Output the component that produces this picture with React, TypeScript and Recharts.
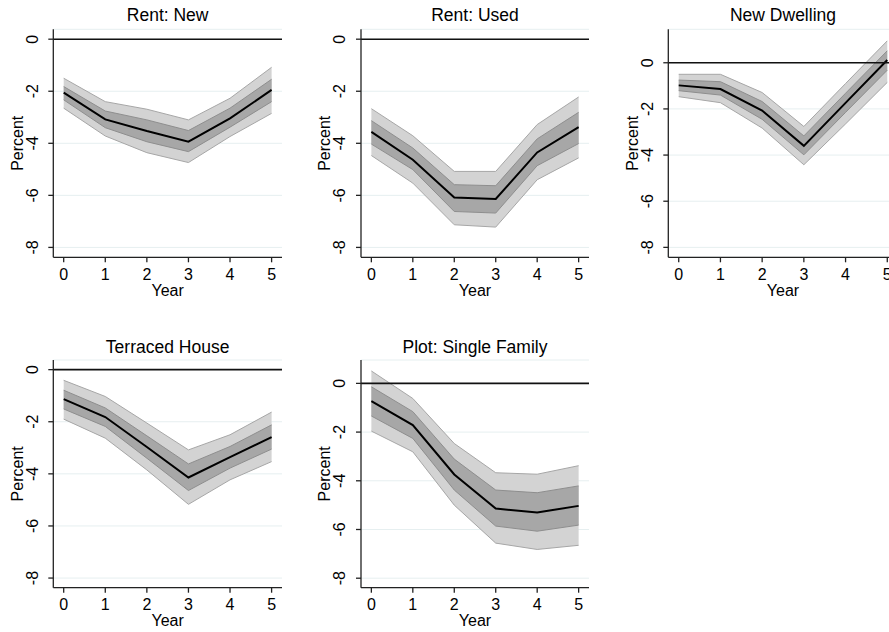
import { ComposedChart, Area, Line, XAxis, YAxis, CartesianGrid, ReferenceLine, Label } from 'recharts';

const years = [0, 1, 2, 3, 4, 5];
const yTicks = [-8, -6, -4, -2, 0];

// Rent: New
const rentNewMean = [-2.05, -3.08, -3.53, -3.94, -3.04, -1.95];
const rentNewHi95 = [-1.5, -2.4, -2.69, -3.1, -2.27, -1.08];
const rentNewLo95 = [-2.65, -3.72, -4.36, -4.74, -3.74, -2.85];
const rentNewHi68 = [-1.82, -2.76, -3.1, -3.51, -2.65, -1.54];
const rentNewLo68 = [-2.33, -3.4, -3.94, -4.32, -3.38, -2.4];

// Rent: Used
const rentUsedMean = [-3.56, -4.63, -6.08, -6.14, -4.35, -3.38];
const rentUsedHi95 = [-2.67, -3.71, -5.08, -5.08, -3.28, -2.22];
const rentUsedLo95 = [-4.47, -5.53, -7.13, -7.22, -5.4, -4.56];
const rentUsedHi68 = [-3.13, -4.18, -5.59, -5.63, -3.83, -2.81];
const rentUsedLo68 = [-4.03, -5.01, -6.62, -6.68, -4.86, -4.01];

// New Dwelling
const newDwMean = [-0.98, -1.14, -2.07, -3.6, -1.74, 0.12];
const newDwHi95 = [-0.5, -0.5, -1.29, -2.76, -0.9, 0.95];
const newDwLo95 = [-1.47, -1.73, -2.83, -4.42, -2.65, -0.85];
const newDwHi68 = [-0.75, -0.82, -1.68, -3.17, -1.32, 0.52];
const newDwLo68 = [-1.21, -1.4, -2.45, -3.99, -2.15, -0.32];

// Terraced House
const terrMean = [-1.13, -1.82, -2.97, -4.14, -3.36, -2.59];
const terrHi95 = [-0.41, -1.03, -2.05, -3.08, -2.5, -1.63];
const terrLo95 = [-1.9, -2.63, -3.85, -5.17, -4.23, -3.53];
const terrHi68 = [-0.79, -1.47, -2.54, -3.62, -2.95, -2.12];
const terrLo68 = [-1.51, -2.18, -3.4, -4.64, -3.78, -3.05];

// Plot: Single Family
const plotMean = [-0.73, -1.71, -3.74, -5.14, -5.3, -5.03];
const plotHi95 = [0.51, -0.62, -2.47, -3.67, -3.73, -3.38];
const plotLo95 = [-1.96, -2.81, -5.0, -6.56, -6.82, -6.65];
const plotHi68 = [-0.14, -1.16, -3.11, -4.38, -4.49, -4.21];
const plotLo68 = [-1.34, -2.26, -4.38, -5.86, -6.07, -5.82];

const FONT = '"Liberation Sans", Arial, sans-serif';

interface PanelProps {
  title: string;
  mean: number[];
  hi95: number[];
  lo95: number[];
  hi68: number[];
  lo68: number[];
  yDomain: [number, number];
  box: { x: number; y: number; w: number; h: number };
  plot: { l: number; t: number; r: number; b: number };
  titleY: number;
}

const X_AXIS_H = 36;

function Panel({ title, mean, hi95, lo95, hi68, lo68, yDomain, box, plot, titleY }: PanelProps) {
  const data = years.map((year, i) => ({
    year,
    band95: [lo95[i], hi95[i]],
    band68: [lo68[i], hi68[i]],
    mean: mean[i],
  }));
  const axisX = plot.l - box.x;
  const top = plot.t - box.y;
  const plotW = plot.r - plot.l;
  const plotH = plot.b - plot.t;
  const margin = {
    top,
    right: box.x + box.w - plot.r,
    bottom: box.y + box.h - plot.b - X_AXIS_H,
    left: 0,
  };

  const yTick = (props: any) => (
    <g transform={`translate(${axisX - 21.5},${props.y}) rotate(-90)`}>
      <text textAnchor="middle" dy="0.36em" fontSize={16} fill="#000" fontFamily={FONT}>
        {props.payload.value}
      </text>
    </g>
  );

  return (
    <div style={{ position: 'absolute', left: box.x, top: box.y, width: box.w, height: box.h }}>
      <div
        style={{
          position: 'absolute',
          left: axisX,
          width: plotW,
          top: titleY - box.y - 10,
          lineHeight: '20px',
          fontSize: 17.5,
          textAlign: 'center',
          fontFamily: FONT,
          color: '#000',
        }}
      >
        {title}
      </div>
      <ComposedChart width={box.w} height={box.h} data={data} margin={margin}>
        <CartesianGrid horizontal vertical={false} stroke="#e6eff0" strokeWidth={1} />
        <XAxis
          dataKey="year"
          type="number"
          domain={[-0.25, 5.25]}
          ticks={years}
          height={X_AXIS_H}
          tickSize={5}
          tickMargin={6}
          axisLine={{ stroke: '#222', strokeWidth: 1.3 }}
          tickLine={{ stroke: '#222', strokeWidth: 1.3 }}
          tick={{ fill: '#000', fontSize: 16, fontFamily: FONT }}
        >
          <Label
            content={() => (
              <text
                x={axisX + plotW / 2}
                y={top + plotH + 33}
                dy="0.36em"
                textAnchor="middle"
                fontSize={16}
                fontFamily={FONT}
                fill="#000"
              >
                Year
              </text>
            )}
          />
        </XAxis>
        <YAxis
          type="number"
          domain={yDomain}
          ticks={yTicks}
          width={axisX}
          tickSize={5}
          tickMargin={2}
          allowDataOverflow
          axisLine={{ stroke: '#222', strokeWidth: 1.3 }}
          tickLine={{ stroke: '#222', strokeWidth: 1.3 }}
          tick={yTick}
        >
          <Label
            content={() => (
              <g transform={`translate(${axisX - 36.5},${top + plotH / 2}) rotate(-90)`}>
                <text textAnchor="middle" dy="0.36em" fontSize={16} fontFamily={FONT} fill="#000">
                  Percent
                </text>
              </g>
            )}
          />
        </YAxis>
        <Area
          type="linear"
          dataKey="band95"
          fill="#d3d3d3"
          fillOpacity={1}
          stroke="#a6a6a6"
          strokeWidth={1}
          isAnimationActive={false}
          dot={false}
          activeDot={false}
        />
        <Area
          type="linear"
          dataKey="band68"
          fill="#a7a7a7"
          fillOpacity={1}
          stroke="#8e8e8e"
          strokeWidth={1}
          isAnimationActive={false}
          dot={false}
          activeDot={false}
        />
        <Line
          type="linear"
          dataKey="mean"
          stroke="#000"
          strokeWidth={2}
          dot={false}
          activeDot={false}
          isAnimationActive={false}
        />
        <ReferenceLine y={0} stroke="#111" strokeWidth={1.6} />
      </ComposedChart>
    </div>
  );
}

export default function App() {
  return (
    <div
      style={{
        position: 'absolute',
        left: 0,
        top: 0,
        width: 889,
        height: 632,
        overflow: 'hidden',
        background: '#fff',
      }}
    >
      <Panel
        title="Rent: New"
        mean={rentNewMean}
        hi95={rentNewHi95}
        lo95={rentNewLo95}
        hi68={rentNewHi68}
        lo68={rentNewLo68}
        yDomain={[-8.38, 0.38]}
        box={{ x: 0, y: 0, w: 300, h: 300 }}
        plot={{ l: 53.3, t: 29.3, r: 282, b: 257.3 }}
        titleY={15}
      />
      <Panel
        title="Rent: Used"
        mean={rentUsedMean}
        hi95={rentUsedHi95}
        lo95={rentUsedLo95}
        hi68={rentUsedHi68}
        lo68={rentUsedLo68}
        yDomain={[-8.38, 0.38]}
        box={{ x: 300, y: 0, w: 300, h: 300 }}
        plot={{ l: 361, t: 29.3, r: 589, b: 257.3 }}
        titleY={15}
      />
      <Panel
        title="New Dwelling"
        mean={newDwMean}
        hi95={newDwHi95}
        lo95={newDwLo95}
        hi68={newDwHi68}
        lo68={newDwLo68}
        yDomain={[-8.43, 1.45]}
        box={{ x: 600, y: 0, w: 300, h: 300 }}
        plot={{ l: 668.3, t: 29.3, r: 897.7, b: 257.3 }}
        titleY={15}
      />
      <Panel
        title="Terraced House"
        mean={terrMean}
        hi95={terrHi95}
        lo95={terrLo95}
        hi68={terrHi68}
        lo68={terrLo68}
        yDomain={[-8.37, 0.37]}
        box={{ x: 0, y: 316, w: 300, h: 316 }}
        plot={{ l: 53.3, t: 360, r: 282, b: 587.7 }}
        titleY={346.7}
      />
      <Panel
        title="Plot: Single Family"
        mean={plotMean}
        hi95={plotHi95}
        lo95={plotLo95}
        hi68={plotHi68}
        lo68={plotLo68}
        yDomain={[-8.39, 0.96]}
        box={{ x: 300, y: 316, w: 300, h: 316 }}
        plot={{ l: 361, t: 360, r: 589, b: 587.7 }}
        titleY={346.7}
      />
    </div>
  );
}
